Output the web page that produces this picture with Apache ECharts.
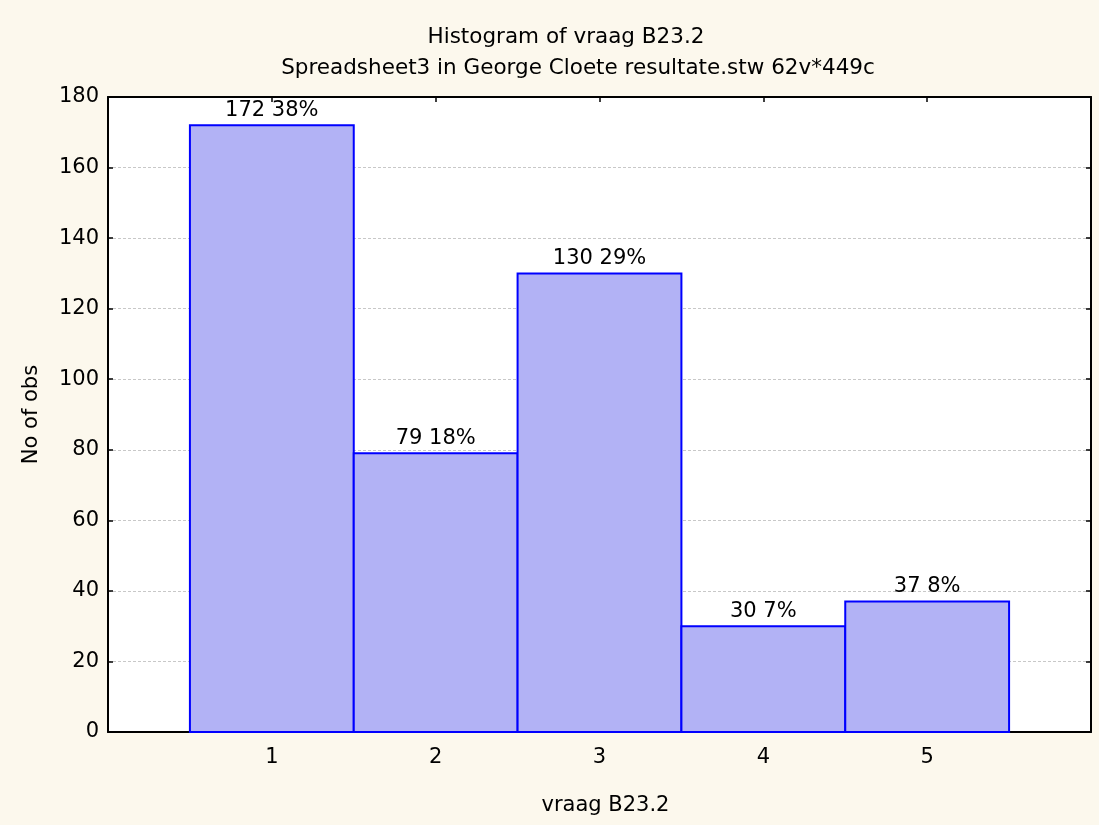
<!DOCTYPE html>
<html>
<head>
<meta charset="utf-8">
<script src="https://cdn.jsdelivr.net/npm/echarts@6/dist/echarts.min.js"></script>
<style>
  html, body { margin: 0; padding: 0; background: #fcf8ed; }
  #chart { width: 1099px; height: 825px; }
</style>
</head>
<body>
<div id="chart"></div>
<script>
// histogram data
const categories = [1, 2, 3, 4, 5];
const counts = [172, 79, 130, 30, 37];
const percents = ['38%', '18%', '29%', '7%', '8%'];

const fontFamily = '"DejaVu Sans", "Liberation Sans", Arial, sans-serif';
const barFill = '#b2b2f5';
const barEdge = '#0000ff';

let myChart = echarts.init(document.getElementById('chart'));

let seriesData = categories.map((c, i) => [c, counts[i], percents[i]]);

// shared look for the frame axes
let frameLine = { show: true, onZero: false, lineStyle: { color: '#000', width: 2 } };
let frameTick = { show: true, inside: true, length: 5, lineStyle: { color: '#000', width: 1.5 } };

let option = {
    backgroundColor: '#fcf8ed',
    textStyle: { fontFamily: fontFamily, color: '#000' },
    title: [
        {
            text: 'Histogram of vraag B23.2',
            left: 561, top: 21, textAlign: 'center',
            textStyle: { fontSize: 21.5, fontWeight: 'normal', color: '#000', fontFamily: fontFamily }
        },
        {
            text: 'Spreadsheet3 in George Cloete resultate.stw 62v*449c',
            left: 573, top: 52, textAlign: 'center',
            textStyle: { fontSize: 21.5, fontWeight: 'normal', color: '#000', fontFamily: fontFamily }
        }
    ],
    grid: {
        left: 108, right: 8, top: 97, bottom: 93,
        show: true, backgroundColor: '#ffffff', borderWidth: 0
    },
    xAxis: [
        {
            type: 'value', min: 0, max: 6, interval: 1, position: 'bottom',
            name: 'vraag B23.2', nameLocation: 'middle', nameGap: 63,
            nameTextStyle: { fontSize: 21, color: '#000', padding: [0, 0, 0, 12] },
            axisLine: frameLine,
            axisTick: frameTick,
            axisLabel: {
                fontSize: 21, color: '#000', margin: 15,
                formatter: v => (categories.indexOf(v) >= 0 ? String(v) : '')
            },
            splitLine: { show: false }
        },
        {
            type: 'value', min: 0, max: 6, interval: 1, position: 'top',
            axisLine: frameLine,
            axisTick: frameTick,
            axisLabel: { show: false },
            splitLine: { show: false }
        }
    ],
    yAxis: [
        {
            type: 'value', min: 0, max: 180, interval: 20, position: 'left',
            name: 'No of obs', nameLocation: 'middle', nameGap: 66, nameRotate: 90,
            nameTextStyle: { fontSize: 21, color: '#000' },
            axisLine: frameLine,
            axisTick: frameTick,
            axisLabel: { fontSize: 21, color: '#000', margin: 9 },
            splitLine: { show: true, lineStyle: { color: '#c8c8c8', type: [3, 2], width: 1 } }
        },
        {
            type: 'value', min: 0, max: 180, interval: 20, position: 'right',
            axisLine: frameLine,
            axisTick: frameTick,
            axisLabel: { show: false },
            splitLine: { show: false }
        }
    ],
    series: [
        {
            type: 'custom',
            xAxisIndex: 0,
            yAxisIndex: 0,
            data: seriesData,
            z: 5,
            renderItem: function (params, api) {
                let x = api.value(0);
                let topLeft = api.coord([x - 0.5, api.value(1)]);
                let bottomRight = api.coord([x + 0.5, 0]);
                return {
                    type: 'rect',
                    shape: {
                        x: topLeft[0],
                        y: topLeft[1],
                        width: bottomRight[0] - topLeft[0],
                        height: bottomRight[1] - topLeft[1]
                    },
                    style: { fill: barFill, stroke: barEdge, lineWidth: 2 },
                    textContent: {
                        style: {
                            text: api.value(1) + ' ' + seriesData[params.dataIndex][2],
                            fontSize: 21,
                            fontFamily: fontFamily,
                            fill: '#000'
                        }
                    },
                    textConfig: { position: 'top', distance: 3 }
                };
            }
        }
    ]
};

myChart.setOption(option);
</script>
</body>
</html>
